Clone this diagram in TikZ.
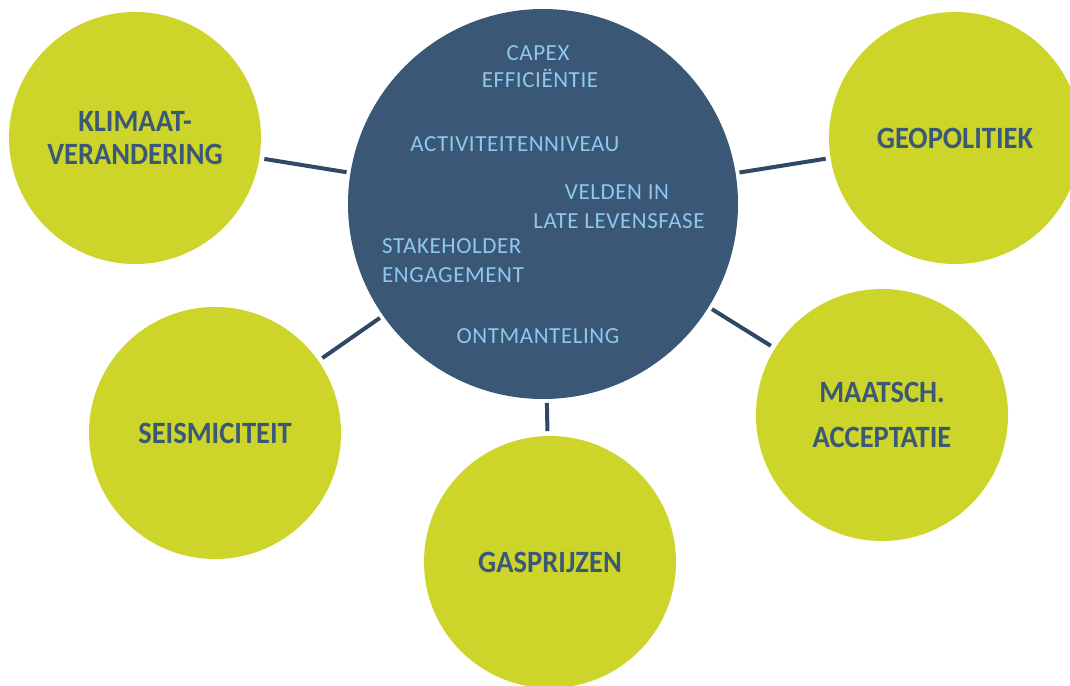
\documentclass[tikz,border=0pt]{standalone}
\usepackage{fontspec}
\setmainfont{Carlito}
\newfontfamily\greenfont{Carlito}[FakeStretch=0.92]
\newfontfamily\itemfont{Carlito}[LetterSpace=2.5]
\definecolor{bubblegreen}{HTML}{CDD52B}
\definecolor{navyfill}{HTML}{3A5776}
\definecolor{linecol}{HTML}{2E4866}
\definecolor{textnavy}{HTML}{3B5877}
\definecolor{paleblue}{HTML}{8DC8EE}
\begin{document}
\begin{tikzpicture}[x=1pt,y=-1pt,
  hub/.style={circle,fill=navyfill,minimum size=390pt,inner sep=0pt,outer sep=0pt},
  factor/.style={circle,fill=bubblegreen,minimum size=252pt,inner sep=0pt,outer sep=0pt,
    text=textnavy,font=\greenfont\bfseries\fontsize{31}{37}\selectfont,align=center},
  item/.style={text=paleblue,font=\itemfont\fontsize{23}{27}\selectfont,inner sep=0pt,anchor=base},
  link/.style={draw=linecol,line width=4pt,shorten <=4pt,shorten >=5pt}]
\useasboundingbox (0,0) rectangle (1070,685);
\node[hub] (hub) at (543,204) {};
\node[factor] (klimaat) at (135,138) {KLIMAAT-\\[-4pt]VERANDERING};
\node[factor] (geo) at (955,138) {GEOPOLITIEK};
\node[factor] (seis) at (215,433) {SEISMICITEIT};
\node[factor] (gas) at (550,562) {GASPRIJZEN};
\node[factor] (maat) at (882,415) {MAATSCH.\\[8pt]ACCEPTATIE};
\node[item] (capex) at (538,60) {CAPEX};
\node[item] (effic) at (540,88) {EFFICIËNTIE};
\node[item] (activ) at (515,151) {ACTIVITEITENNIVEAU};
\node[item] (velden) at (617,199) {VELDEN IN};
\node[item] (late) at (619,228) {LATE LEVENSFASE};
\node[item,anchor=base west] (stake) at (382,253) {STAKEHOLDER};
\node[item,anchor=base west] (engage) at (382,282) {ENGAGEMENT};
\node[item] (ontm) at (538,343) {ONTMANTELING};
\draw[link] (hub) -- (klimaat);
\draw[link] (hub) -- (geo);
\draw[link] (hub) -- (seis);
\draw[link] (hub) -- (gas);
\draw[link] (hub) -- (maat);
\end{tikzpicture}
\end{document}
